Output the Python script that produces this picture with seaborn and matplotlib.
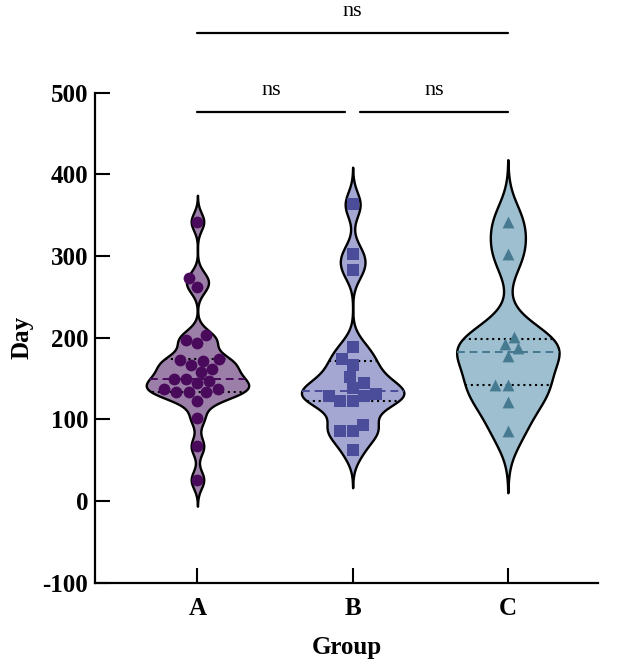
import matplotlib
matplotlib.use("Agg")
import matplotlib.pyplot as plt
import numpy as np
import pandas as pd
import seaborn as sns

# values
groups = ["A", "B", "C"]
day_a = [342, 273, 262, 203, 197, 193, 172, 173, 174, 167, 162, 158, 150, 150,
         147, 144, 137, 137, 133, 133, 133, 123, 102, 67, 26]
day_b = [363, 302, 283, 189, 174, 166, 152, 144, 138, 128, 129, 131, 123, 122,
         93, 86, 86, 62]
day_c = [342, 302, 201, 192, 187, 178, 142, 142, 121, 86]
yticks = [-100, 0, 100, 200, 300, 400, 500]
comparisons = [("A", "B", 476), ("B", "C", 476), ("A", "C", 573)]
labels = ["ns", "ns", "ns"]

fills = {"A": "#9c7fa8", "B": "#a4a7d2", "C": "#9ebfcf"}
dots = {"A": "#4a0a5c", "B": "#4b4d9b", "C": "#467a91"}
markers = {"A": "o", "B": "s", "C": "^"}
bws = {"A": 0.17, "B": 0.19, "C": 0.32}

df = pd.DataFrame({
    "Group": ["A"] * len(day_a) + ["B"] * len(day_b) + ["C"] * len(day_c),
    "Day": day_a + day_b + day_c,
})

sns.set_style("ticks")
plt.rcParams["font.family"] = ["Liberation Serif", "DejaVu Serif"]
plt.rcParams["axes.unicode_minus"] = False
plt.rcParams["text.color"] = "black"

fig = plt.figure(figsize=(6.17, 6.66), dpi=100)
ax = fig.add_axes([0.154, 0.125, 0.815, 0.736])

for g in groups:
    sub = df[df["Group"] == g]
    n0 = len(ax.lines)
    sns.violinplot(data=sub, x="Group", y="Day", order=groups, color=fills[g],
                   bw_method=bws[g], cut=3, gridsize=500, width=0.66,
                   density_norm="width", inner="quart", saturation=1,
                   linecolor="black", linewidth=1.7, ax=ax)
    new = ax.lines[n0:]
    for i, ln in enumerate(new):
        if i % 3 == 1:
            ln.set_color(dots[g])
            ln.set_linestyle((0, (4, 2.5)))
            ln.set_linewidth(1.4)
        else:
            ln.set_color("black")
            ln.set_linestyle((0, (1, 1.8)))
            ln.set_linewidth(1.5)
    sns.swarmplot(data=sub, x="Group", y="Day", order=groups, color=dots[g],
                  marker=markers[g], size=8.5, linewidth=0, ax=ax)

ax.set_xlim(-0.66, 2.58)
ax.set_ylim(-100, 500)
ax.set_yticks(yticks)
ax.set_xlabel("Group", fontsize=18, fontweight="bold", labelpad=12,
              color="black")
ax.set_ylabel("Day", fontsize=18, fontweight="bold", labelpad=6,
              color="black")
ax.tick_params(axis="both", direction="in", length=11, width=1.5,
               labelsize=18, pad=5, colors="black")
for lab in ax.get_xticklabels() + ax.get_yticklabels():
    lab.set_fontweight("bold")
ax.tick_params(axis="x", pad=10)
sns.despine(ax=ax)
for s in ["left", "bottom"]:
    ax.spines[s].set_linewidth(1.6)
    ax.spines[s].set_color("black")

pos = {g: i for i, g in enumerate(groups)}
for (g1, g2, h), lab in zip(comparisons, labels):
    x1, x2 = pos[g1], pos[g2]
    if x2 - x1 == 1:
        if x1 == 0:
            x2 -= 0.05
        else:
            x1 += 0.05
    ax.plot([x1, x2], [h, h], color="black", linewidth=1.6, clip_on=False)
    ax.text((x1 + x2) / 2, h + 26, lab, ha="center", va="center",
            fontsize=16, clip_on=False)

fig.savefig("out.png", dpi=100)
